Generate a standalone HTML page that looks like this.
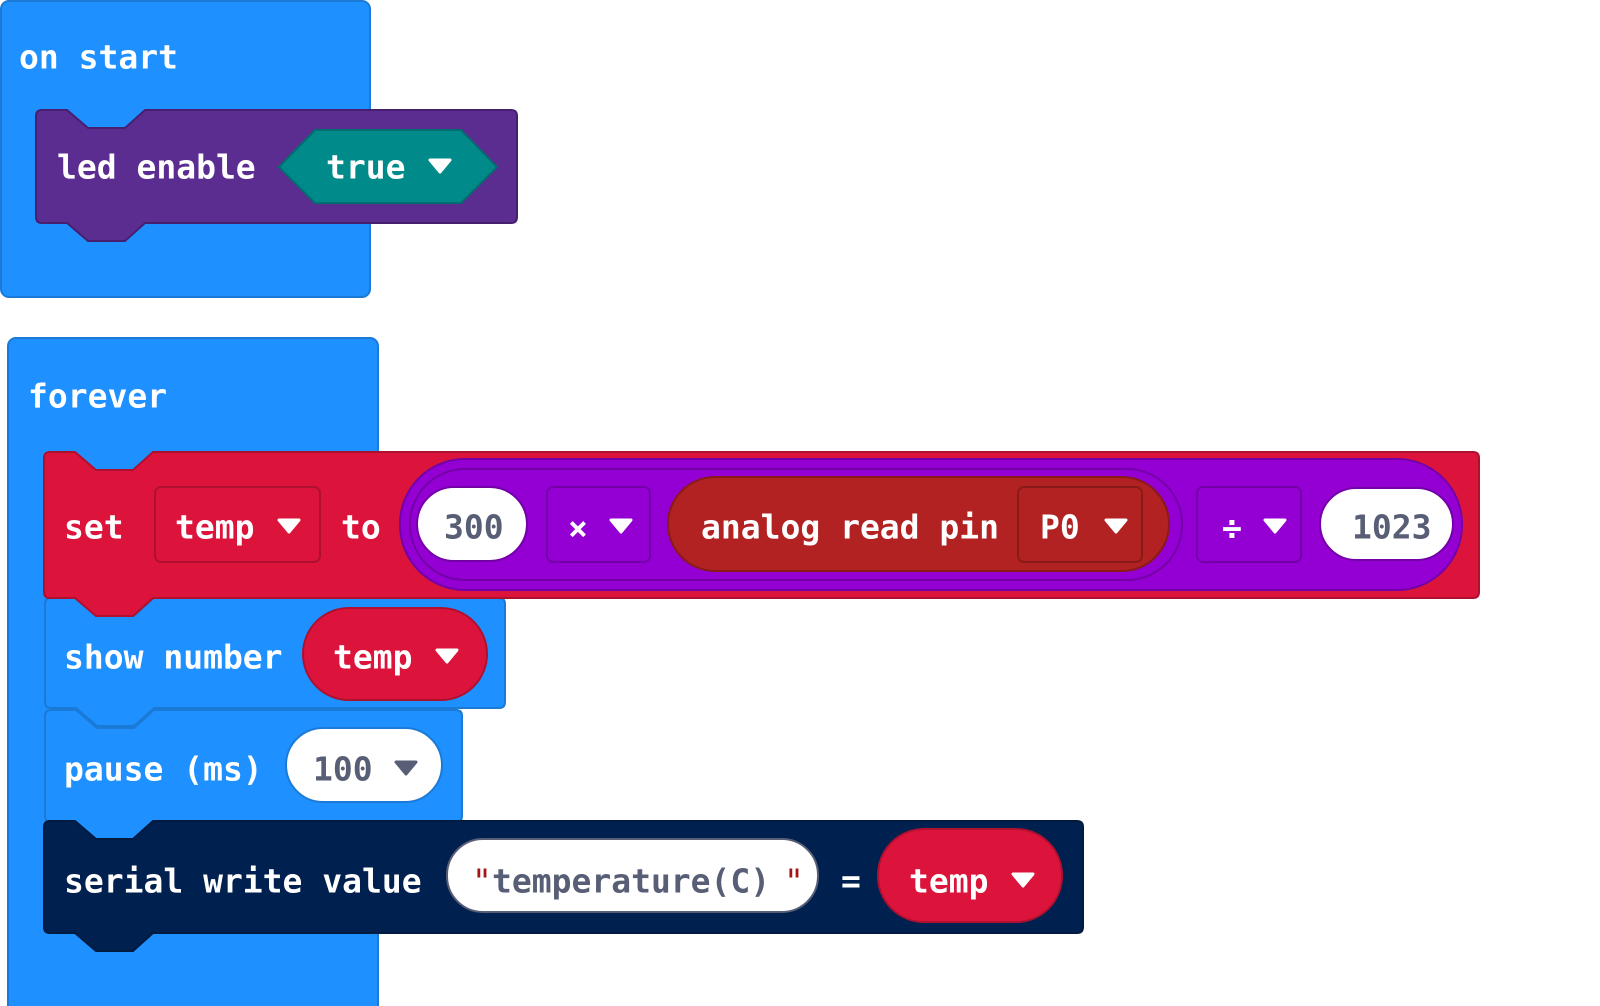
<!DOCTYPE html>
<html><head><meta charset="utf-8"><style>
html,body{margin:0;padding:0;background:#fff;}
svg{display:block;}
text{font-family:"DejaVu Sans Mono","Liberation Mono",monospace;font-size:33px;font-weight:bold;dominant-baseline:central;}
.w{fill:#fff;}
.g{fill:#575e75;}
</style></head><body>
<svg width="1600" height="1006" viewBox="0 0 1600 1006" xmlns="http://www.w3.org/2000/svg">
<!-- on start -->
<rect x="1" y="1" width="369" height="296" rx="8" fill="#1e90ff" stroke="#1b7ad6" stroke-width="2"/>
<text x="19" y="57" class="w">on start</text>
<!-- purple led enable -->
<path d="M42,110 H67 L88,128 H125 L145,110 H511 Q517,110 517,116 V217 Q517,223 511,223 H145 L125,241 H88 L67,223 H42 Q36,223 36,217 V116 Q36,110 42,110 Z" fill="#5c2d91" stroke="#46206f" stroke-width="2"/>
<text x="57" y="167" class="w">led enable</text>
<polygon points="279,167 315,130 461,130 497,167 461,203 315,203" fill="#008b8a" stroke="#006e6e" stroke-width="2"/>
<text x="326" y="167" class="w">true</text>
<path d="M430,160 H450 L440,172 Z" fill="#fff" stroke="#fff" stroke-width="3" stroke-linejoin="round"/>

<!-- forever -->
<rect x="8" y="338" width="370" height="680" rx="8" fill="#1e90ff" stroke="#1b7ad6" stroke-width="2"/>
<text x="28" y="396" class="w">forever</text>

<!-- pause (draw lower blocks first so notches overlap correctly) -->
<path d="M51,710 H76 L97,728 H134 L154,710 H456 Q462,710 462,716 V816 Q462,822 456,822 H154 L134,840 H97 L76,822 H51 Q45,822 45,816 V716 Q45,710 51,710 Z" fill="#1e90ff" stroke="#1b7ad6" stroke-width="2"/>
<text x="64" y="769" class="w">pause (ms)</text>
<rect x="286" y="728" width="156" height="74" rx="37" fill="#fff" stroke="#1b7ad6" stroke-width="2"/>
<text x="313" y="769" class="g">100</text>
<path d="M396,762 H416 L406,774 Z" fill="#575e75" stroke="#575e75" stroke-width="3" stroke-linejoin="round"/>

<!-- show number -->
<path d="M51,598 H76 L97,616 H134 L154,598 H499 Q505,598 505,604 V702 Q505,708 499,708 H154 L134,726 H97 L76,708 H51 Q45,708 45,702 V604 Q45,598 51,598 Z" fill="#1e90ff" stroke="#1b7ad6" stroke-width="2"/>
<text x="64" y="657" class="w">show number</text>
<rect x="303" y="608" width="184" height="92" rx="46" fill="#dc143c" stroke="#b0102f" stroke-width="2"/>
<text x="333" y="657" class="w">temp</text>
<path d="M437,650 H457 L447,662 Z" fill="#fff" stroke="#fff" stroke-width="3" stroke-linejoin="round"/>

<!-- set block -->
<path d="M50,452 H75 L96,470 H133 L153,452 H1473 Q1479,452 1479,458 V592 Q1479,598 1473,598 H153 L133,616 H96 L75,598 H50 Q44,598 44,592 V458 Q44,452 50,452 Z" fill="#dc143c" stroke="#b0102f" stroke-width="2"/>
<text x="64" y="527" class="w">set</text>
<rect x="155" y="487" width="165" height="75" rx="6" fill="#dc143c" stroke="#b0102f" stroke-width="2"/>
<text x="175" y="527" class="w">temp</text>
<path d="M279,520 H299 L289,532 Z" fill="#fff" stroke="#fff" stroke-width="3" stroke-linejoin="round"/>
<text x="341" y="527" class="w">to</text>
<rect x="400" y="459" width="1062" height="131" rx="65" fill="#9400d3" stroke="#7400a8" stroke-width="2"/>
<rect x="410" y="469" width="772" height="111" rx="55" fill="#9400d3" stroke="#7400a8" stroke-width="2"/>
<rect x="417" y="487" width="110" height="74" rx="37" fill="#fff" stroke="#7400a8" stroke-width="2"/>
<text x="444" y="527" class="g">300</text>
<rect x="547" y="487" width="103" height="75" rx="6" fill="#9400d3" stroke="#7400a8" stroke-width="2"/>
<text x="568" y="528" class="w">×</text>
<path d="M611,520 H631 L621,532 Z" fill="#fff" stroke="#fff" stroke-width="3" stroke-linejoin="round"/>
<rect x="668" y="477" width="501" height="94" rx="47" fill="#b22222" stroke="#8a1a1a" stroke-width="2"/>
<text x="701" y="527" class="w">analog read pin</text>
<rect x="1018" y="487" width="124" height="75" rx="6" fill="#b22222" stroke="#8a1a1a" stroke-width="2"/>
<text x="1040" y="527" class="w">P0</text>
<path d="M1106,520 H1126 L1116,532 Z" fill="#fff" stroke="#fff" stroke-width="3" stroke-linejoin="round"/>
<rect x="1197" y="487" width="104" height="75" rx="6" fill="#9400d3" stroke="#7400a8" stroke-width="2"/>
<text x="1222" y="528" class="w">÷</text>
<path d="M1265,520 H1285 L1275,532 Z" fill="#fff" stroke="#fff" stroke-width="3" stroke-linejoin="round"/>
<rect x="1320" y="488" width="133" height="72" rx="36" fill="#fff" stroke="#7400a8" stroke-width="2"/>
<text x="1352" y="527" class="g">1023</text>

<!-- serial -->
<path d="M50,821 H75 L96,839 H133 L153,821 H1077 Q1083,821 1083,827 V927 Q1083,933 1077,933 H153 L133,951 H96 L75,933 H50 Q44,933 44,927 V827 Q44,821 50,821 Z" fill="#00204f" stroke="#001a40" stroke-width="2"/>
<text x="64" y="881" class="w">serial write value</text>
<rect x="447" y="839" width="371" height="73" rx="36" fill="#fff" stroke="#575e75" stroke-width="2"/>
<text x="472" y="881" fill="#a31515" style="font-weight:normal">"</text>
<text x="492" y="881" class="g">temperature(C)</text>
<text x="784" y="881" fill="#a31515" style="font-weight:normal">"</text>
<text x="841" y="881" class="w">=</text>
<rect x="878" y="829" width="184" height="93" rx="46" fill="#dc143c" stroke="#b0102f" stroke-width="2"/>
<text x="909" y="881" class="w">temp</text>
<path d="M1013,874 H1033 L1023,886 Z" fill="#fff" stroke="#fff" stroke-width="3" stroke-linejoin="round"/>
</svg>
</body></html>
